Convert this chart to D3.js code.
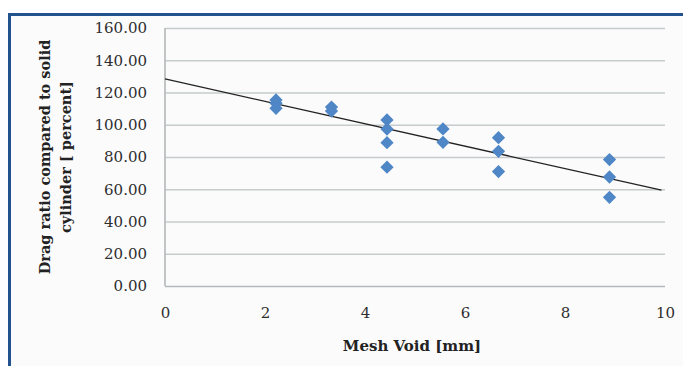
<!DOCTYPE html>
<html>
<head>
<meta charset="utf-8">
<script src="https://cdn.jsdelivr.net/npm/d3@7"></script>
<style>
  html, body { margin: 0; padding: 0; background: #ffffff; }
  svg { display: block; }
</style>
</head>
<body>
<svg width="683" height="366"></svg>
<script>
// mesh void [mm] and drag ratio [%]
var meshVoid = [2.22, 2.22, 2.22, 3.33, 3.33, 4.44, 4.44, 4.44, 4.44, 5.56, 5.56, 6.67, 6.67, 6.67, 8.89, 8.89, 8.89];
var dragRatio = [115.4, 113.3, 110.2, 111.0, 108.5, 103.0, 97.3, 88.9, 73.7, 97.4, 89.1, 92.0, 83.5, 71.0, 78.4, 67.6, 55.0];

// linear trendline end points
var trendX = [0, 9.93];
var trendY = [128.4, 59.4];

var xTicks = [0, 2, 4, 6, 8, 10];
var yTicks = [0, 20, 40, 60, 80, 100, 120, 140, 160];

var width = 683;
var height = 366;

var svg = d3.select("svg");

// blue frame round the chart
svg.append("rect")
    .attr("x", 9.5)
    .attr("y", 14.5)
    .attr("width", width + 20)
    .attr("height", height + 20)
    .attr("fill", "#fbfbfc")
    .attr("stroke", "#23528f")
    .attr("stroke-width", 3);

var x = d3.scaleLinear()
    .domain([0, 10])
    .range([165, 665]);

var y = d3.scaleLinear()
    .domain([0, 160])
    .range([286, 28]);

var serif = "'DejaVu Serif', 'Liberation Serif', serif";

// gridlines
var yAxis = d3.axisLeft(y)
    .tickValues(yTicks)
    .tickSize(-(x.range()[1] - x.range()[0]))
    .tickPadding(18)
    .tickFormat(d3.format(".2f"));

var gy = svg.append("g")
    .attr("transform", "translate(" + x.range()[0] + ",0)")
    .call(yAxis);

gy.select(".domain").remove();
gy.selectAll(".tick line")
    .attr("stroke", function (d) {
        return d === 0 ? "#b4b8b8" : "#c6cccc";
    })
    .attr("stroke-width", 1.6);
gy.selectAll(".tick text")
    .attr("fill", "#2e2e2e")
    .style("font-family", serif)
    .style("font-size", "15px");

// left axis line
svg.append("line")
    .attr("x1", x(0))
    .attr("x2", x(0))
    .attr("y1", y(160))
    .attr("y2", y(0))
    .attr("stroke", "#b4b8b8")
    .attr("stroke-width", 1.6);

var xAxis = d3.axisBottom(x)
    .tickValues(xTicks)
    .tickSize(0)
    .tickPadding(21)
    .tickFormat(d3.format("d"));

var gx = svg.append("g")
    .attr("transform", "translate(0," + y(0) + ")")
    .call(xAxis);

gx.select(".domain").remove();
gx.selectAll(".tick text")
    .attr("fill", "#2e2e2e")
    .style("font-family", serif)
    .style("font-size", "15px");

// trendline
var line = d3.line()
    .x(function (d) { return x(d[0]); })
    .y(function (d) { return y(d[1]); });

svg.append("path")
    .datum(d3.zip(trendX, trendY))
    .attr("d", line)
    .attr("fill", "none")
    .attr("stroke", "#222222")
    .attr("stroke-width", 1.3);

// diamond markers
var diamond = d3.symbol().type(d3.symbolSquare).size(88);

svg.append("g")
    .selectAll("path")
    .data(d3.zip(meshVoid, dragRatio))
    .enter().append("path")
    .attr("d", diamond)
    .attr("transform", function (d) {
        return "translate(" + x(d[0]) + "," + y(d[1]) + ")rotate(45)";
    })
    .attr("fill", "#4f86c6");

// axis titles
var yTitle = svg.append("text")
    .attr("transform", "translate(0," + ((y(0) + y(160)) / 2) + ")rotate(-90)")
    .attr("text-anchor", "middle")
    .attr("fill", "#222222")
    .style("font-family", serif)
    .style("font-weight", "bold")
    .style("font-size", "14.5px");

yTitle.append("tspan")
    .attr("x", 0)
    .attr("y", 50)
    .text("Drag ratio compared to solid");

yTitle.append("tspan")
    .attr("x", 0)
    .attr("y", 71)
    .text("cylinder [ percent]");

svg.append("text")
    .attr("x", 412)
    .attr("y", 351)
    .attr("text-anchor", "middle")
    .attr("fill", "#222222")
    .style("font-family", serif)
    .style("font-weight", "bold")
    .style("font-size", "15px")
    .text("Mesh Void [mm]");
</script>
</body>
</html>
